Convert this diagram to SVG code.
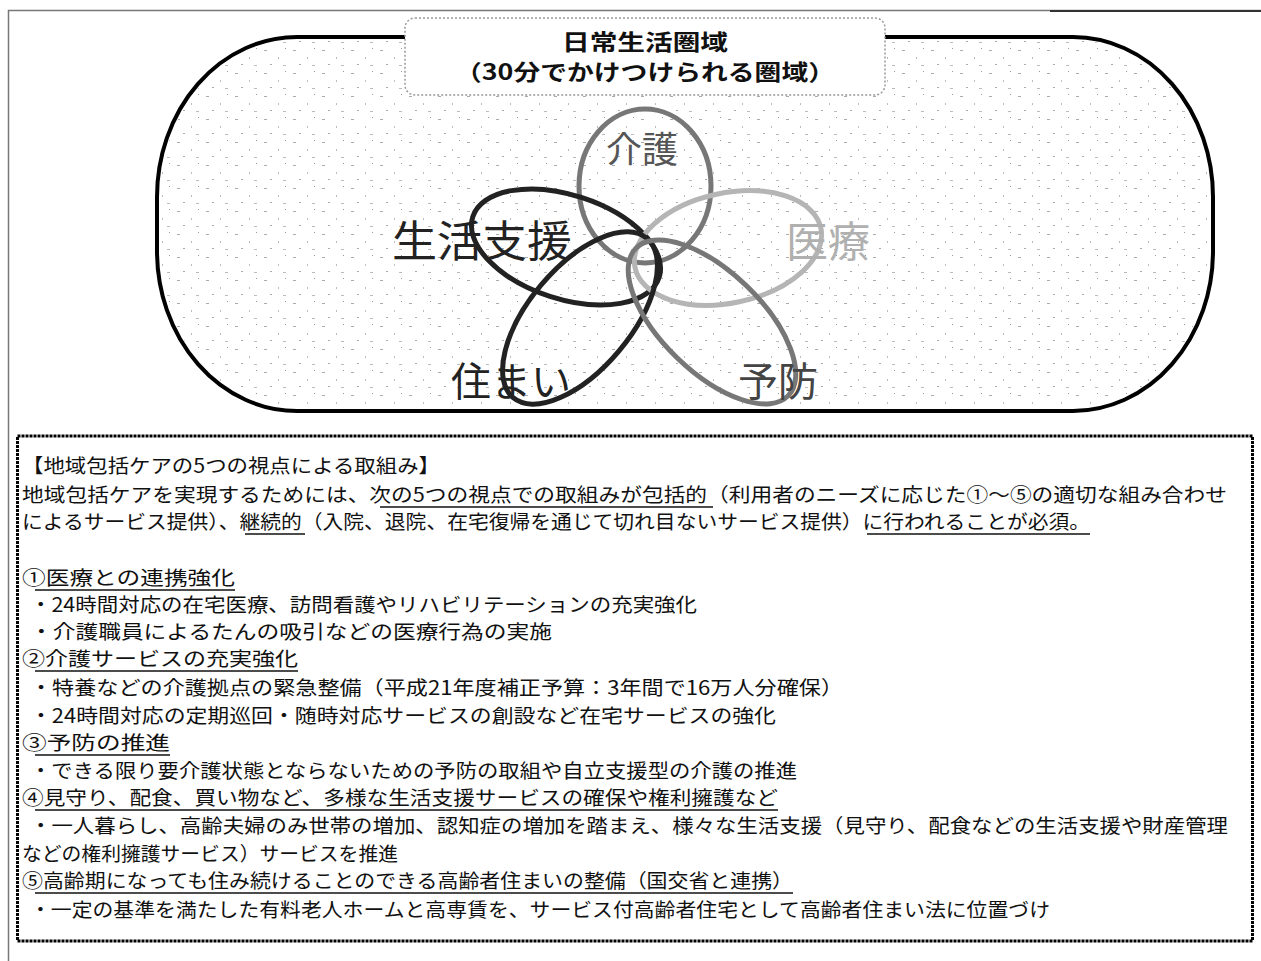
<svg xmlns="http://www.w3.org/2000/svg" width="1261" height="961" viewBox="0 0 1261 961">
<style>
.jp{font-family:"Noto Sans CJK JP","Noto Sans CJK SC",sans-serif;}
.body{font-size:19.5px;fill:#111;}
.ul{stroke:#111;stroke-width:1.6;}
.lbl{font-family:"Noto Sans CJK JP","Noto Sans CJK SC",sans-serif;text-anchor:middle;}
.ell{fill:none;stroke-width:5;}
</style>
<defs>
<pattern id="specks" width="29" height="23" patternUnits="userSpaceOnUse">
<rect x="3" y="4" width="3" height="1" fill="#aaa"/>
<rect x="17" y="11" width="1" height="2" fill="#bbb"/>
<rect x="9" y="18" width="2" height="1" fill="#aaa"/>
<rect x="24" y="2" width="1" height="1" fill="#999"/>
<rect x="22" y="19" width="3" height="1" fill="#bbb"/>
</pattern>
</defs>
<rect width="1261" height="961" fill="#fff"/>
<!-- outer frame -->
<path d="M8.5 961 V10.5 H1261" fill="none" stroke="#777" stroke-width="1.5"/>
<line x1="1050" y1="11" x2="1261" y2="11" stroke="#333" stroke-width="2"/>

<g id="area">
<rect x="157" y="37" width="1056" height="374" rx="140" ry="160" fill="#fff" stroke="#000" stroke-width="4"/>
<rect x="160" y="40" width="1050" height="368" rx="137" ry="157" fill="url(#specks)" stroke="none"/>
</g>

<g id="title">
<rect x="405" y="18" width="480" height="77" rx="10" fill="#fff" stroke="#999" stroke-width="1.5" stroke-dasharray="2 2"/>
<text class="lbl" x="645" y="50" font-size="22" font-weight="bold" fill="#111" textLength="166" lengthAdjust="spacingAndGlyphs">日常生活圏域</text>
<text class="lbl" x="645" y="80" font-size="22" font-weight="bold" fill="#111" textLength="380" lengthAdjust="spacingAndGlyphs">（30分でかけつけられる圏域）</text>
</g>

<g id="circles">
<g id="kaigo"><ellipse class="ell" cx="645" cy="186" rx="66" ry="77" stroke="#777"/></g>
<g id="seikatsu"><ellipse class="ell" cx="566" cy="247" rx="98" ry="52" transform="rotate(18 566 247)" stroke="#222"/></g>
<g id="iryo"><ellipse class="ell" cx="728" cy="248" rx="95" ry="55" transform="rotate(-12 728 248)" stroke="#b5b5b5"/></g>
<g id="sumai"><ellipse class="ell" cx="580" cy="318" rx="104" ry="51" transform="rotate(-50 580 318)" stroke="#222"/></g>
<g id="yobo"><ellipse class="ell" cx="712" cy="322" rx="106" ry="50" transform="rotate(44 712 322)" stroke="#777"/></g>
</g>

<g id="labels">
<text class="lbl" x="642" y="163" font-size="36" fill="#555">介護</text>
<text class="lbl" x="482" y="257" font-size="43" fill="#222" textLength="180" lengthAdjust="spacingAndGlyphs">生活支援</text>
<text class="lbl" x="828" y="257" font-size="42" fill="#b0b0b0">医療</text>
<text class="lbl" x="511" y="396" font-size="40" fill="#222">住まい</text>
<text class="lbl" x="778" y="396" font-size="40" fill="#444">予防</text>
</g>

<g id="textbox">
<rect x="17.5" y="436" width="1235" height="505" fill="none" stroke="#000" stroke-width="3" stroke-dasharray="3 1"/>
<g class="jp body">
<text x="22" y="473" textLength="418" lengthAdjust="spacingAndGlyphs">【地域包括ケアの5つの視点による取組み】</text>
<text x="22" y="502" textLength="1205" lengthAdjust="spacingAndGlyphs">地域包括ケアを実現するためには、次の5つの視点での取組みが包括的（利用者のニーズに応じた①～⑤の適切な組み合わせ</text>
<text x="22" y="529" textLength="1068" lengthAdjust="spacingAndGlyphs">によるサービス提供）、継続的（入院、退院、在宅復帰を通じて切れ目ないサービス提供）に行われることが必須。</text>
<text x="22" y="585" textLength="213" lengthAdjust="spacingAndGlyphs">①医療との連携強化</text>
<text x="30" y="612" textLength="667" lengthAdjust="spacingAndGlyphs">・24時間対応の在宅医療、訪問看護やリハビリテーションの充実強化</text>
<text x="30" y="639" textLength="522" lengthAdjust="spacingAndGlyphs">・介護職員によるたんの吸引などの医療行為の実施</text>
<text x="22" y="666" textLength="276" lengthAdjust="spacingAndGlyphs">②介護サービスの充実強化</text>
<text x="30" y="695" textLength="813" lengthAdjust="spacingAndGlyphs">・特養などの介護拠点の緊急整備（平成21年度補正予算：3年間で16万人分確保）</text>
<text x="30" y="723" textLength="746" lengthAdjust="spacingAndGlyphs">・24時間対応の定期巡回・随時対応サービスの創設など在宅サービスの強化</text>
<text x="22" y="750" textLength="148" lengthAdjust="spacingAndGlyphs">③予防の推進</text>
<text x="30" y="778" textLength="767" lengthAdjust="spacingAndGlyphs">・できる限り要介護状態とならないための予防の取組や自立支援型の介護の推進</text>
<text x="22" y="805" textLength="756" lengthAdjust="spacingAndGlyphs">④見守り、配食、買い物など、多様な生活支援サービスの確保や権利擁護など</text>
<text x="30" y="833" textLength="1198" lengthAdjust="spacingAndGlyphs">・一人暮らし、高齢夫婦のみ世帯の増加、認知症の増加を踏まえ、様々な生活支援（見守り、配食などの生活支援や財産管理</text>
<text x="22" y="861" textLength="376" lengthAdjust="spacingAndGlyphs">などの権利擁護サービス）サービスを推進</text>
<text x="22" y="888" textLength="771" lengthAdjust="spacingAndGlyphs">⑤高齢期になっても住み続けることのできる高齢者住まいの整備（国交省と連携）</text>
<text x="30" y="917" textLength="1020" lengthAdjust="spacingAndGlyphs">・一定の基準を満たした有料老人ホームと高専賃を、サービス付高齢者住宅として高齢者住まい法に位置づけ</text>
</g>
<g class="ul">
<line x1="380" y1="507" x2="713" y2="507"/>
<line x1="245" y1="534" x2="305" y2="534"/>
<line x1="867" y1="534" x2="1090" y2="534"/>
<line x1="35" y1="590" x2="235" y2="590"/>
<line x1="35" y1="671" x2="298" y2="671"/>
<line x1="35" y1="755" x2="170" y2="755"/>
<line x1="35" y1="810" x2="778" y2="810"/>
<line x1="35" y1="893" x2="793" y2="893"/>
</g>
</g>
</svg>
